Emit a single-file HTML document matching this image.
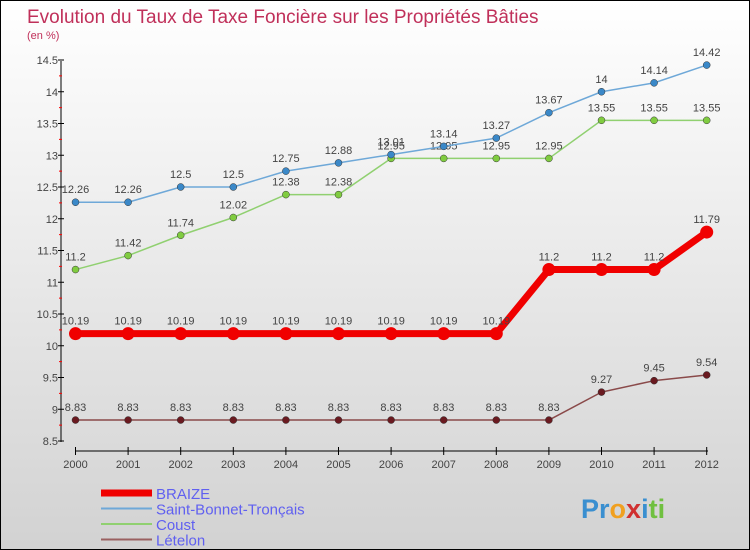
<!DOCTYPE html>
<html><head><meta charset="utf-8"><style>
body{margin:0;}
#c{position:relative;width:748px;height:548px;border:1px solid #000;background:linear-gradient(#fff,#d2d2d2);font-family:"Liberation Sans",sans-serif;overflow:hidden}
</style></head><body>
<div id="c">
<svg id="s" width="748" height="548" style="position:absolute;left:0;top:0">
<text x="26" y="22" font-size="19" fill="#c0305a">Evolution du Taux de Taxe Foncière sur les Propriétés Bâties</text>
<text x="26" y="38" font-size="11" fill="#c0305a">(en %)</text>
<g id="axes"></g><g id="series"></g><g id="legend"></g>
<text x="580" y="517" font-size="27" font-weight="bold"><tspan fill="#3a8fd0">Pr</tspan><tspan fill="#f0a020">o</tspan><tspan fill="#d03030">x</tspan><tspan fill="#3a8fd0">i</tspan><tspan fill="#70c040">ti</tspan></text>
</svg>
</div>
<script>
const years=[2000,2001,2002,2003,2004,2005,2006,2007,2008,2009,2010,2011,2012];
const braize=[10.19,10.19,10.19,10.19,10.19,10.19,10.19,10.19,10.19,11.2,11.2,11.2,11.79];
const sbt=[12.26,12.26,12.5,12.5,12.75,12.88,13.01,13.14,13.27,13.67,14,14.14,14.42];
const coust=[11.2,11.42,11.74,12.02,12.38,12.38,12.95,12.95,12.95,12.95,13.55,13.55,13.55];
const letelon=[8.83,8.83,8.83,8.83,8.83,8.83,8.83,8.83,8.83,8.83,9.27,9.45,9.54];
const yTicks=[8.5,9,9.5,10,10.5,11,11.5,12,12.5,13,13.5,14,14.5];
const seriesNames=["BRAIZE","Saint-Bonnet-Tronçais","Coust","Lételon"];
const NS="http://www.w3.org/2000/svg";
const xs=i=>74.5+i*52.6;
const ys=v=>440-(v-8.5)*63.5;
function mk(t,a,p){const e=document.createElementNS(NS,t);for(const k in a)e.setAttribute(k,a[k]);p.appendChild(e);return e;}
const ax=document.getElementById('axes');
let l=mk('line',{x1:60,y1:60,x2:60,y2:441,stroke:'#000'},ax);

yTicks.forEach((v,i)=>{
 mk('line',{x1:57,y1:ys(v),x2:63,y2:ys(v),stroke:'#000'},ax);
 if(i<yTicks.length-1)mk('line',{x1:58,y1:ys(v+0.25),x2:61,y2:ys(v+0.25),stroke:'#f00'},ax);
 const t=mk('text',{x:57,y:ys(v)+4,'font-size':11,'text-anchor':'end',fill:'#444'},ax);t.textContent=v;
 
});
l=mk('line',{x1:74,y1:450,x2:707,y2:450,stroke:'#000'},ax);

years.forEach((y,i)=>{
 mk('line',{x1:xs(i),y1:446,x2:xs(i),y2:454,stroke:'#000'},ax);
 const t=mk('text',{x:xs(i),y:467,'font-size':11,'text-anchor':'middle',fill:'#444'},ax);t.textContent=y;
 
});
const sg=document.getElementById('series');
function draw(data,col,dot,w,r,name){
 const g=mk('g',{},sg);
 
 mk('polyline',{points:data.map((v,i)=>xs(i)+','+ys(v)).join(' '),fill:'none',stroke:col,'stroke-width':w,'stroke-linejoin':'round'},g);
 data.forEach((v,i)=>{
  const c=mk('circle',{cx:xs(i),cy:ys(v),r:r,fill:dot,stroke:w>3?'none':'#333','stroke-width':0.5},g);
  
  const t=mk('text',{x:xs(i),y:ys(v)-9,'font-size':11,'text-anchor':'middle',fill:'#444'},g);t.textContent=v;
  
 });
}
draw(letelon,'#8a4a4a','#6a1a20',1.5,3.5,'letelon-series');
draw(coust,'#90d070','#80cc40',1.5,3.5,'coust-series');
draw(sbt,'#6ea8d8','#3a88c8',1.5,3.5,'saint-bonnet-series');
draw(braize,'#f00000','#f00000',7,6.5,'braize-series');
const lg=document.getElementById('legend');
const lcols=['#f00000','#6ea8d8','#90d070','#9a6060'];const lw=[7,2,2,2];
seriesNames.forEach((n,i)=>{
 const y=492+i*15.5;
 const g=mk('g',{},lg);
 
 mk('line',{x1:100,y1:y,x2:151,y2:y,stroke:lcols[i],'stroke-width':lw[i]},g);
 const t=mk('text',{x:155,y:y+6,'font-size':15,fill:'#6060f0'},g);t.textContent=n;
});
</script>
</body></html>
